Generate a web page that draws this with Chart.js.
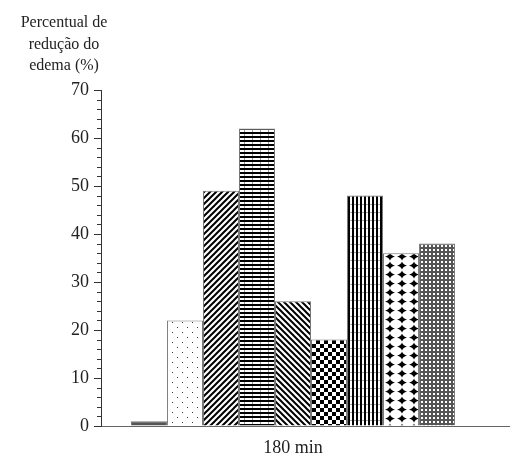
<!DOCTYPE html>
<html>
<head>
<meta charset="utf-8">
<script src="https://cdn.jsdelivr.net/npm/chart.js@4/dist/chart.umd.min.js"></script>
<style>
  html, body { margin: 0; padding: 0; background: #fff; }
  #wrap { width: 511px; height: 459px; position: relative; }
</style>
</head>
<body>
<div id="wrap"><canvas id="myChart"></canvas></div>
<script>
const categories = ['180 min'];
const groups = ['g1','g2','g3','g4','g5','g6','g7','g8','g9'];
const values = [1, 22, 49, 62, 26, 18, 48, 36, 38];
const yTicks = [0, 10, 20, 30, 40, 50, 60, 70];
const yTitle = ['Percentual de', 'redução do', 'edema (%)'];

function tile(w, h, draw) {
  const c = document.createElement('canvas');
  c.width = w; c.height = h;
  const g = c.getContext('2d');
  g.fillStyle = '#fff';
  g.fillRect(0, 0, w, h);
  draw(g, w, h);
  return document.getElementById('myChart').getContext('2d').createPattern(c, 'repeat');
}

const patterns = [
  tile(4, 4, (g) => { g.fillStyle = '#555'; g.fillRect(0, 0, 4, 4); }),
  tile(10, 10, (g) => {
    g.fillStyle = '#333';
    g.fillRect(2, 2, 1, 1);
    g.fillRect(7, 7, 1, 1);
  }),
  tile(6, 6, (g) => {
    g.strokeStyle = '#000'; g.lineWidth = 2;
    g.beginPath();
    g.moveTo(-1, 7); g.lineTo(7, -1);
    g.moveTo(-1, 1); g.lineTo(1, -1);
    g.moveTo(5, 7); g.lineTo(7, 5);
    g.stroke();
  }),
  tile(8, 4, (g) => {
    g.fillStyle = '#000'; g.fillRect(0, 0, 8, 2);
    g.fillStyle = '#999'; g.fillRect(4, 2, 1, 2);
  }),
  tile(6, 6, (g) => {
    g.strokeStyle = '#000'; g.lineWidth = 2;
    g.beginPath();
    g.moveTo(-1, -1); g.lineTo(7, 7);
    g.moveTo(5, -1); g.lineTo(7, 1);
    g.moveTo(-1, 5); g.lineTo(1, 7);
    g.stroke();
  }),
  tile(8, 8, (g) => {
    g.fillStyle = '#000';
    g.fillRect(0, 0, 4, 4);
    g.fillRect(4, 4, 4, 4);
  }),
  tile(4, 8, (g) => {
    g.fillStyle = '#000'; g.fillRect(0, 0, 2, 8);
    g.fillStyle = '#aaa'; g.fillRect(2, 4, 2, 1);
  }),
  tile(12, 9, (g) => {
    g.fillStyle = '#000';
    g.beginPath();
    g.moveTo(6, 0.5);
    g.quadraticCurveTo(7, 3.5, 11, 4.5);
    g.quadraticCurveTo(7, 5.5, 6, 8.5);
    g.quadraticCurveTo(5, 5.5, 1, 4.5);
    g.quadraticCurveTo(5, 3.5, 6, 0.5);
    g.closePath(); g.fill();
  }),
  tile(4, 4, (g) => {
    g.fillStyle = '#555'; g.fillRect(0, 0, 4, 4);
    g.fillStyle = '#fff'; g.fillRect(1, 1, 2, 2);
  })
];

const datasets = groups.map((name, i) => ({
  label: name,
  data: [values[i]],
  backgroundColor: patterns[i],
  borderColor: '#777',
  borderWidth: 1,
  borderSkipped: 'bottom',
  barPercentage: 1.0,
  categoryPercentage: 0.844
}));

const serif = '"Liberation Serif", "Times New Roman", serif';

const extras = {
  id: 'extras',
  afterDraw(chart) {
    const ctx = chart.ctx;
    const y = chart.scales.y;
    const area = chart.chartArea;
    ctx.save();
    // title above the value axis
    ctx.font = '16px ' + serif;
    ctx.fillStyle = '#222';
    ctx.textAlign = 'center';
    ctx.textBaseline = 'middle';
    yTitle.forEach((t, i) => ctx.fillText(t, 64, 23 + i * 21.5));
    // minor ticks
    ctx.strokeStyle = '#333';
    ctx.lineWidth = 1;
    ctx.beginPath();
    for (let v = y.min; v <= y.max; v += 2) {
      if (yTicks.includes(v)) continue;
      const py = Math.round(y.getPixelForValue(v)) + 0.5;
      ctx.moveTo(area.left - 4, py);
      ctx.lineTo(area.left, py);
    }
    ctx.stroke();
    // baseline runs on to the right edge
    const by = Math.round(y.getPixelForValue(0)) + 0.5;
    ctx.strokeStyle = '#666';
    ctx.beginPath();
    ctx.moveTo(area.right, by);
    ctx.lineTo(510, by);
    ctx.stroke();
    ctx.restore();
  }
};

const config = {
  type: 'bar',
  data: { labels: categories, datasets },
  options: {
    responsive: false,
    animation: false,
    devicePixelRatio: 1,
    layout: { padding: { top: 90, right: 26, left: 0, bottom: 0 } },
    plugins: { legend: { display: false }, tooltip: { enabled: false } },
    scales: {
      x: {
        grid: { display: false, drawTicks: false },
        border: { color: '#666', width: 1 },
        ticks: { padding: 11, color: '#222', font: { family: serif, size: 18 } },
        afterFit(s) { s.height = 33; }
      },
      y: {
        min: 0, max: 70,
        afterBuildTicks(s) {
          s.ticks = yTicks.map((v) => ({ value: v }));
        },
        grid: {
          drawOnChartArea: false,
          tickLength: 7,
          tickColor: '#333',
          tickWidth: 1
        },
        border: { color: '#333', width: 1 },
        ticks: {
          autoSkip: false,
          padding: 5,
          color: '#222',
          font: { family: serif, size: 18 }
        },
        afterFit(s) { s.width = 101; }
      }
    }
  },
  plugins: [extras]
};

const canvas = document.getElementById('myChart');
canvas.width = 511; canvas.height = 459;
const myChart = new Chart(canvas, config);
</script>
</body>
</html>
